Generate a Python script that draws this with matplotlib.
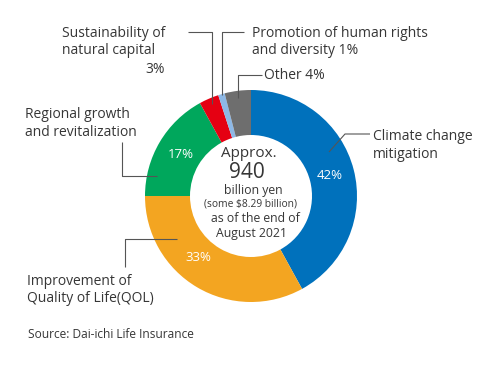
import matplotlib
matplotlib.use("Agg")
import matplotlib.pyplot as plt
import numpy as np

plt.rcParams['font.family'] = ['Open Sans', 'DejaVu Sans']

# ---- data ----
categories = ["Climate change mitigation",
              "Improvement of Quality of Life(QOL)",
              "Regional growth and revitalization",
              "Sustainability of natural capital",
              "Promotion of human rights and diversity",
              "Other"]
shares = [42, 33, 17, 3, 1, 4]
colors = ["#0071BC", "#F3A521", "#00A75C", "#E50012", "#8DB8E6", "#6E6E6E"]
center_lines = ["Approx.", "940", "billion yen", "(some $8.29 billion)",
                "as of the end of", "August 2021"]
source = "Source: Dai-ichi Life Insurance"

W, H = 500, 365
fig = plt.figure(figsize=(W / 100, H / 100), dpi=100)
ax = fig.add_axes([0, 0, 1, 1])

def Y(y):
    return H - y

cx, cy, R = 251, Y(196), 106
ring = 45

wedges, texts = ax.pie(
    shares, colors=colors, startangle=90, counterclock=False,
    radius=R, center=(cx, cy),
    wedgeprops=dict(width=ring, edgecolor='none'))

# percentage labels inside ring (only for the big wedges)
label_angle_shift = [0, -10, 0, 0, 0, 0]
for w, v, sh in zip(wedges, shares, label_angle_shift):
    if v < 10:
        continue
    mid = np.deg2rad((w.theta1 + w.theta2) / 2 + sh)
    r = 0.77 * R
    ax.text(cx + r * np.cos(mid), cy + r * np.sin(mid), f"{v}%",
            ha='center', va='center', color='white', fontsize=9.5)

ax.set_xlim(0, W)
ax.set_ylim(0, H)
ax.set_aspect('equal')
ax.axis('off')

txt = '#363636'
lc = '#555555'
lw = 0.8
fs = 10

def line(xs, ys):
    ax.plot(xs, [Y(v) for v in ys], color=lc, lw=lw, solid_capstyle='butt')

def label(x, y_base, lines, ha='left'):
    for i, s in enumerate(lines):
        ax.text(x, Y(y_base + 17.5 * i), s, ha=ha, va='baseline',
                fontsize=fs, color=txt)

# Sustainability
label(62, 37, ["Sustainability of", "natural capital"])
ax.text(165, Y(73), "3%", ha='right', va='baseline', fontsize=fs, color=txt)
line([188, 212, 212], [32, 32, 104])

# Promotion
label(252, 37, ["Promotion of human rights", "and diversity 1%"])
line([244, 222, 222], [32, 32, 95])

# Other
ax.text(264, Y(79), "Other 4%", ha='left', va='baseline', fontsize=fs, color=txt)
line([262, 238, 238], [75, 75, 98])

# Regional
label(25, 118, ["Regional growth", "and revitalization"])
line([122, 122, 157], [142, 176, 176])

# QOL
label(27, 285, ["Improvement of", "Quality of Life(QOL)"])
line([125, 125, 177], [267, 239, 239])

# Climate
label(373, 140, ["Climate change", "mitigation"])
line([370, 345, 329], [134, 134, 152])

# Center text
ax.text(cx - 2, Y(157), center_lines[0], ha='center', va='baseline', fontsize=11, color=txt)
ax.text(cx - 4, Y(178), center_lines[1], ha='center', va='baseline', fontsize=15, color=txt)
ax.text(cx + 2, Y(194), center_lines[2], ha='center', va='baseline', fontsize=8.8, color=txt)
ax.text(cx, Y(207), center_lines[3], ha='center', va='baseline', fontsize=7.4, color=txt)
ax.text(cx + 4, Y(222), center_lines[4], ha='center', va='baseline', fontsize=8.8, color=txt)
ax.text(cx + 1, Y(237), center_lines[5], ha='center', va='baseline', fontsize=8.8, color=txt)

# Source
ax.text(28, Y(338), source, ha='left', va='baseline', fontsize=8.6, color=txt)

fig.savefig("out.png", dpi=100)
